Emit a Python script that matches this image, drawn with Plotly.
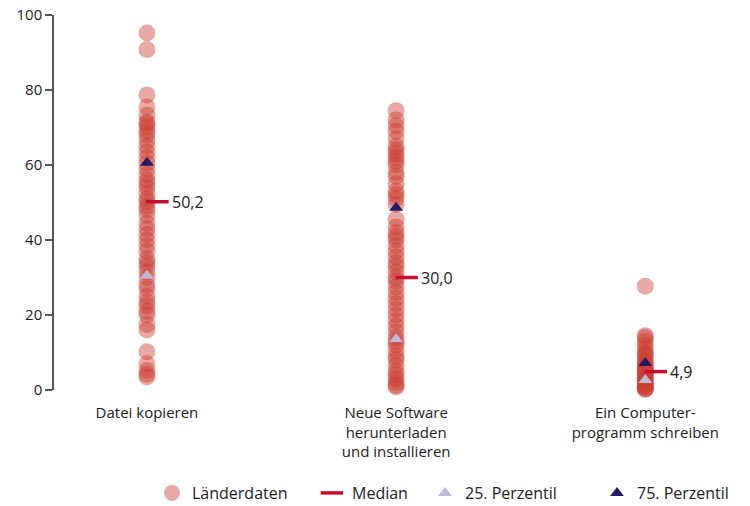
import plotly.graph_objects as go

categories = ["Datei kopieren",
              "Neue Software<br>herunterladen<br>und installieren",
              "Ein Computer-<br>programm schreiben"]

# country values per activity (percent)
values_copy = [95.2, 90.8, 78.7, 75.5, 73.3, 71.5, 71.0, 70.2, 69.0, 68.0, 66.5, 65.0,
               63.5, 62.0, 60.5, 59.0, 57.5, 56.0, 55.0, 54.0, 52.5, 51.0, 50.2, 49.0,
               48.0, 46.5, 44.5, 43.0, 41.5, 40.0, 38.5, 37.0, 35.0, 34.0, 33.0, 31.5,
               30.0, 28.0, 27.0, 25.0, 23.5, 22.5, 21.0, 20.0, 17.5, 16.0, 10.2, 7.0,
               5.2, 4.2, 3.5]
values_software = [74.5, 72.0, 70.5, 69.0, 67.0, 65.0, 64.0, 63.0, 62.0, 61.0, 60.0, 58.0,
                   57.0, 55.0, 53.0, 52.0, 51.0, 49.5, 45.5, 43.5, 42.0, 41.0, 40.0, 38.5,
                   37.0, 35.5, 34.0, 33.0, 31.5, 30.0, 29.0, 27.5, 26.0, 24.5, 23.0, 21.5,
                   20.0, 18.5, 17.0, 15.5, 14.0, 13.0, 12.0, 10.5, 9.0, 8.0, 6.5, 5.0,
                   4.0, 3.0, 2.0, 1.2, 0.8]
values_programming = [27.7, 14.5, 14.0, 13.0, 12.0, 11.0, 10.0, 9.5, 9.0, 8.0, 7.5, 7.0,
                      6.5, 6.0, 5.5, 5.0, 4.9, 4.5, 4.0, 3.5, 3.0, 2.8, 2.5, 2.0, 1.5,
                      1.0, 0.8, 0.5, 0.3, 0.2]

medians = [50.2, 30.0, 4.9]
median_labels = ["50,2", "30,0", "4,9"]
p25 = [30.5, 13.6, 2.7]
p75 = [60.6, 48.6, 7.2]

y_ticks = [0, 20, 40, 60, 80, 100]

FONT = "Open Sans"
TEXT = "#222222"

W, H = 750, 506
PLOT_W = 691
X_RANGE = [-0.373, 2.40]
px_per_unit = PLOT_W / (X_RANGE[1] - X_RANGE[0])
median_offset = 10.5 / px_per_unit

fig = go.Figure()

all_sets = [values_copy, values_software, values_programming]
xs, ys = [], []
for i, vals in enumerate(all_sets):
    xs += [i] * len(vals)
    ys += vals

fig.add_trace(go.Scatter(
    x=xs, y=ys, mode="markers", name="Länderdaten", legend="legend",
    marker=dict(size=17, color="rgba(204,61,51,0.45)", line=dict(width=0)),
    cliponaxis=False, hoverinfo="y"))

idx = list(range(len(categories)))

fig.add_trace(go.Scatter(
    x=[i + median_offset for i in idx], y=medians, mode="markers", name="Median",
    legend="legend2",
    marker=dict(symbol="line-ew", size=16, color="#c8102e",
                line=dict(width=3.5, color="#c8102e")),
    cliponaxis=False))

fig.add_trace(go.Scatter(
    x=idx, y=p25, mode="markers", name="25. Perzentil", legend="legend3",
    marker=dict(symbol="triangle-up", size=12, color="#bfb8d6", line=dict(width=0)),
    cliponaxis=False))

fig.add_trace(go.Scatter(
    x=idx, y=p75, mode="markers", name="75. Perzentil", legend="legend4",
    marker=dict(symbol="triangle-up", size=12, color="#211c63", line=dict(width=0)),
    cliponaxis=False))

for i, (m, lab) in enumerate(zip(medians, median_labels)):
    fig.add_annotation(x=i, y=m, text=lab, showarrow=False, xanchor="left",
                       yanchor="middle", xshift=23,
                       font=dict(family=FONT, size=16, color=TEXT))


def legend_at(text_left_px):
    return dict(orientation="h", xref="container", yref="container",
                x=(text_left_px - 38) / W, xanchor="left",
                y=(H - 493) / H, yanchor="middle",
                font=dict(family=FONT, size=16, color=TEXT),
                itemwidth=30, bgcolor="rgba(0,0,0,0)")


fig.update_layout(
    width=W, height=H,
    margin=dict(l=54, r=5, t=15, b=116),
    paper_bgcolor="white", plot_bgcolor="white",
    font=dict(family=FONT, size=15, color=TEXT),
    showlegend=True,
    legend=legend_at(190),
    legend2=legend_at(350),
    legend3=legend_at(463),
    legend4=legend_at(635),
    xaxis=dict(range=X_RANGE, tickmode="array", tickvals=idx, ticktext=categories,
               showgrid=False, zeroline=False, showline=False, ticks="",
               ticklabelstandoff=12,
               tickfont=dict(family=FONT, size=15, color=TEXT)),
    yaxis=dict(range=[0, 100], tickmode="array", tickvals=y_ticks,
               showgrid=False, zeroline=False, showline=True, linecolor="#555555",
               linewidth=1.5, ticks="outside", ticklen=7, tickcolor="#555555",
               tickwidth=1.5, tickfont=dict(family=FONT, size=15, color=TEXT)),
)

fig.write_html("out.html", config={"displayModeBar": False},
               post_script="document.body.style.margin='0px';")
